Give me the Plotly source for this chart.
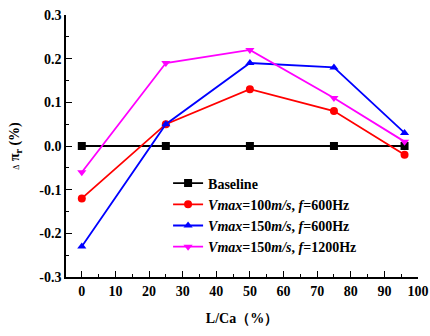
import plotly.graph_objects as go

x_vals = [0, 25, 50, 75, 96]
baseline = [0, 0, 0, 0, 0]
v100_f600 = [-0.12, 0.05, 0.13, 0.08, -0.02]
v150_f600 = [-0.23, 0.05, 0.19, 0.18, 0.03]
v150_f1200 = [-0.06, 0.19, 0.22, 0.11, 0.01]

names = ["<b>Baseline</b>",
         "<b><i>Vmax</i>=100<i>m/s</i>, <i>f</i>=600Hz</b>",
         "<b><i>Vmax</i>=150<i>m/s</i>, <i>f</i>=600Hz</b>",
         "<b><i>Vmax</i>=150<i>m/s</i>, <i>f</i>=1200Hz</b>"]
colors = ["#000000", "#ff0000", "#0000ff", "#ff00ff"]
symbols = ["square", "circle", "triangle-up", "triangle-down"]
series = [baseline, v100_f600, v150_f600, v150_f1200]

fig = go.Figure()
for n, c, s, y in zip(names, colors, symbols, series):
    fig.add_trace(go.Scatter(x=x_vals, y=y, name=n, mode="lines+markers",
                             line=dict(color=c, width=1.8),
                             marker=dict(symbol=s, size=8, color=c)))

font = dict(family="Liberation Serif, Times New Roman, serif", size=14, color="black")
fig.update_layout(
    width=430, height=336,
    margin=dict(l=66, r=12, t=15, b=59, autoexpand=False),
    plot_bgcolor="white", paper_bgcolor="white",
    font=font,
    showlegend=True,
    legend=dict(x=0.29, y=0.418, xanchor="left", yanchor="top",
                bgcolor="rgba(0,0,0,0)", font=dict(size=14, family="Liberation Serif", color="black"),
                tracegroupgap=0, itemwidth=30),
    xaxis=dict(range=[-4.7, 100], tickvals=list(range(0, 101, 10)),
               ticktext=["<b>%d</b>" % v for v in range(0, 101, 10)],
               ticks="inside", ticklen=6, tickwidth=1, tickcolor="black",
               showline=True, linecolor="black", linewidth=1.5, mirror=False,
               showgrid=False, zeroline=False, automargin=False,
               minor=dict(tickvals=list(range(5, 100, 10)), ticks="inside", ticklen=3, tickcolor="black"),
               tickfont=dict(size=14, family="Liberation Serif", color="black"),
               title=dict(text="<b>L/Ca（%）</b>", font=dict(size=14, family="Liberation Serif"), standoff=16)),
    yaxis=dict(range=[-0.3, 0.3], tickvals=[-0.3, -0.2, -0.1, 0.0, 0.1, 0.2, 0.3],
               ticktext=["<b>-0.3</b>", "<b>-0.2</b>", "<b>-0.1</b>", "<b>0.0</b>", "<b>0.1</b>", "<b>0.2</b>", "<b>0.3</b>"],
               ticks="inside", ticklen=6, tickwidth=1, tickcolor="black",
               showline=True, linecolor="black", linewidth=1.5,
               showgrid=False, zeroline=False, automargin=False,
               minor=dict(tickvals=[-0.25, -0.15, -0.05, 0.05, 0.15, 0.25], ticks="inside", ticklen=3, tickcolor="black"),
               tickfont=dict(size=14, family="Liberation Serif", color="black"),
               title=dict(text="<span style='font-size:8px'>Δ</span> <b>π<sub>r</sub> (%)</b>",
                          font=dict(size=14, family="Liberation Serif"), standoff=16)),
)
fig.write_html("out.html", config={"displayModeBar": False},
               post_script="document.body.style.margin='0';")
